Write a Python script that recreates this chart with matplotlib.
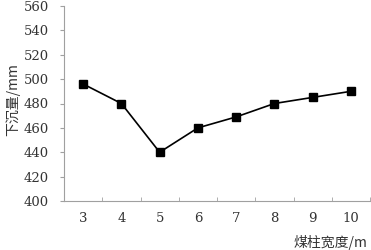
import numpy as np
import matplotlib.pyplot as plt
from matplotlib.ticker import FixedLocator

# data
width = ['3', '4', '5', '6', '7', '8', '9', '10']
subsidence = [496, 480, 440, 460, 469, 480, 485, 490]

plt.rcParams['font.family'] = ['DejaVu Serif', 'Noto Sans CJK SC', 'DejaVu Sans']

fig = plt.figure(figsize=(3.71, 2.5), dpi=100)
ax = fig.add_axes([0.1725, 0.196, 0.825, 0.78])

x = np.arange(len(width))
ax.plot(x, subsidence, color='black', lw=1.2, marker='s', ms=6, mfc='black', mec='black')

ax.set_xlim(-0.5, len(width) - 0.5)
ax.set_ylim(400, 560)
ax.set_yticks(np.arange(400, 561, 20))
ax.set_xticks(x)
ax.set_xticklabels(width)
ax.xaxis.set_minor_locator(FixedLocator(np.arange(-0.5, len(width), 1)))

for s in ['top', 'right']:
    ax.spines[s].set_visible(False)
for s in ['left', 'bottom']:
    ax.spines[s].set_color('#a0a0a0')
    ax.spines[s].set_linewidth(0.8)

ax.tick_params(axis='y', length=3, color='#a0a0a0', labelsize=9.5, labelcolor='#333333', pad=8)
ax.tick_params(axis='x', which='major', length=0, labelsize=9.5, labelcolor='#333333', pad=8)
ax.tick_params(axis='x', which='minor', direction='in', length=3, color='#a0a0a0')

fig.text(0.035, 0.6, '下沉量/mm', rotation=90, ha='center', va='center', fontsize=10,
         family=['Noto Sans CJK SC', 'DejaVu Sans'], color='#333333')
fig.text(0.99, 0.03, '煤柱宽度/m', ha='right', va='center', fontsize=10,
         family=['Noto Sans CJK SC', 'DejaVu Sans'], color='#333333')

plt.savefig('out.png', dpi=100)
